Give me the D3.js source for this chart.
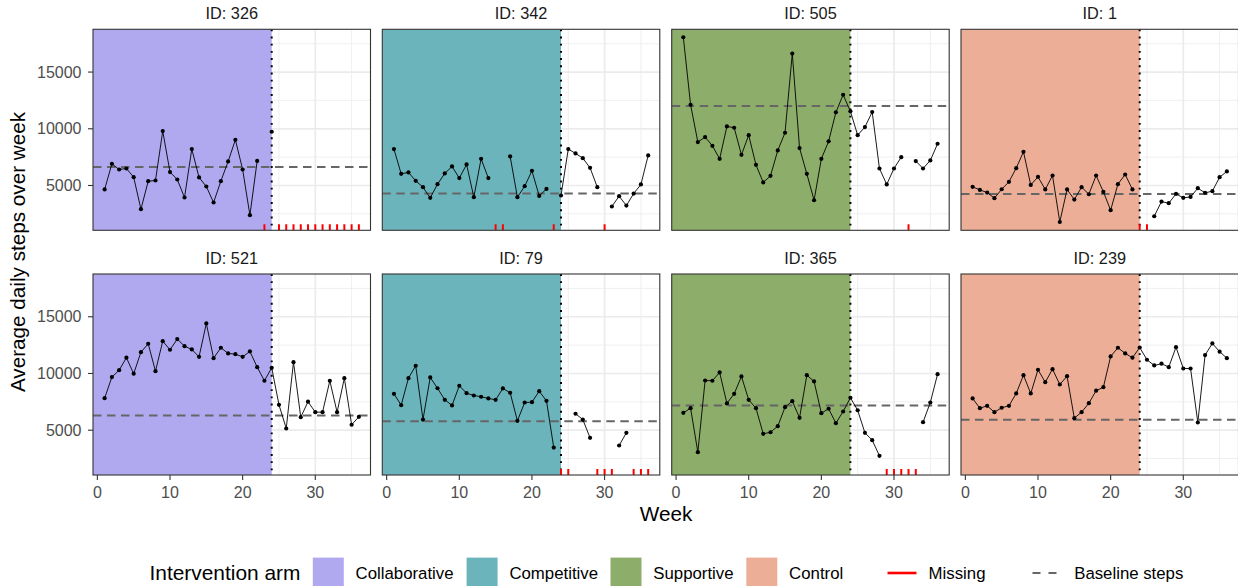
<!DOCTYPE html>
<html>
<head>
<meta charset="utf-8">
<script src="https://cdn.jsdelivr.net/npm/d3@7"></script>
<style>
  html, body { margin: 0; padding: 0; background: #fff; }
  svg { display: block; font-family: "Liberation Sans", Arial, Helvetica, sans-serif; }
</style>
</head>
<body>
<svg id="chart" width="1238" height="586"></svg>
<script>
// ---------------- data ----------------
const weeks = d3.range(1, 37);
const ids = ["326", "342", "505", "1", "521", "79", "365", "239"];
const arms = ["Collaborative", "Competitive", "Supportive", "Control",
              "Collaborative", "Competitive", "Supportive", "Control"];
const armNames = ["Collaborative", "Competitive", "Supportive", "Control"];
const armColors = ["#B1A9F0", "#6CB4BB", "#8DAD6A", "#ECAE97"];
const baselineSteps = [6640, 4290, 12000, 4260, 6300, 5790, 7180, 5910];
const interventionStartWeek = 24;

const steps326 = [4650,6910,6410,6500,5730,2910,5380,5440,9800,6180,5530,3940,8210,5710,4910,3500,5380,7120,9030,6410,2380,7170,null,9740,null,null,null,null,null,null,null,null,null,null,null,null];
const steps342 = [8210,6030,6150,5410,4850,3910,5120,6060,6680,5650,6860,3970,7350,5650,null,null,7560,3970,4940,6290,4080,4700,null,4120,8210,7830,7410,6560,4850,null,3150,4060,3230,4290,5090,7650];
const steps505 = [18070,12120,8830,9270,8500,7350,10210,10090,7700,9440,6820,5270,5850,8090,9650,16630,8300,6030,3700,7350,8890,11450,13000,11540,9440,10150,11480,6500,5090,6500,7500,null,7150,6500,7210,8680];
const steps1   = [4880,4610,4380,3880,4670,5320,6530,7970,5050,5760,4650,5880,1780,4650,3760,4850,4230,5880,4440,2820,5120,5970,4650,null,null,2290,3580,3440,4260,3910,3990,4760,4350,4500,5730,6240];
const steps521 = [7820,9680,10290,11390,9980,11880,12620,10200,12850,12090,13030,12410,12120,11470,14410,11350,12270,11770,11700,11470,11940,10560,9360,10500,7240,5150,11000,6150,7510,6590,6590,9360,6590,9590,5480,6180];
const steps79  = [8210,7210,9590,10680,5940,9650,8700,7680,7180,8920,8260,8060,7950,7800,7680,8680,8300,5830,7440,7470,8440,7590,3470,null,null,6450,5940,4330,null,null,null,3650,4770,null,null,null];
const steps365 = [6530,6940,3060,9380,9360,10090,7360,8210,9740,7680,6940,4680,4820,5350,7030,7560,6090,9850,9300,6500,6890,5620,6650,7860,6760,4770,4120,2740,null,null,null,null,null,5710,7440,9940];
const steps239 = [7800,6940,7150,6590,6980,7150,8240,9850,8240,10330,9230,10380,9030,9760,6060,6590,7380,8480,8790,11500,12270,11770,11390,12290,11210,10710,10860,10560,12320,10440,10440,5680,11620,12650,11920,11350];

const xTicks = [0, 10, 20, 30];
const xMinor = [5, 15, 25, 35];
const yTicks = [5000, 10000, 15000];
const yMinor = [2500, 7500, 12500, 17500];

const allSteps = [steps326, steps342, steps505, steps1, steps521, steps79, steps365, steps239];

// ---------------- layout ----------------
const svg = d3.select("#chart");
const panelW = 277.5, panelH = 201;
const colX = [93, 382.3, 671.7, 961];
const rowY = [29.3, 274];

const x = d3.scaleLinear().domain([-0.6, 37.6]).range([0, panelW]);
const y = d3.scaleLinear().domain([1050, 18770]).range([panelH, 0]);
const armColor = d3.scaleOrdinal().domain(armNames).range(armColors);

ids.forEach((id, i) => {
  const col = i % 4, row = Math.floor(i / 4);
  const g = svg.append("g").attr("transform", `translate(${colX[col]},${rowY[row]})`);
  const data = weeks.map((w, k) => ({ week: w, steps: allSteps[i][k] }));

  const clipId = "clip" + i;
  g.append("clipPath").attr("id", clipId)
    .append("rect").attr("width", panelW).attr("height", panelH);
  const inner = g.append("g").attr("clip-path", `url(#${clipId})`);

  inner.append("rect").attr("width", panelW).attr("height", panelH).attr("fill", "#fff");

  // grid minor
  inner.selectAll(".gxm").data(xMinor).join("line")
    .attr("x1", d => x(d)).attr("x2", d => x(d)).attr("y1", 0).attr("y2", panelH)
    .attr("stroke", "#EBEBEB").attr("stroke-width", 0.8);
  inner.selectAll(".gym").data(yMinor).join("line")
    .attr("y1", d => y(d)).attr("y2", d => y(d)).attr("x1", 0).attr("x2", panelW)
    .attr("stroke", "#EBEBEB").attr("stroke-width", 0.8);
  // grid major
  inner.selectAll(".gx").data(xTicks).join("line")
    .attr("x1", d => x(d)).attr("x2", d => x(d)).attr("y1", 0).attr("y2", panelH)
    .attr("stroke", "#EBEBEB").attr("stroke-width", 1.7);
  inner.selectAll(".gy").data(yTicks).join("line")
    .attr("y1", d => y(d)).attr("y2", d => y(d)).attr("x1", 0).attr("x2", panelW)
    .attr("stroke", "#EBEBEB").attr("stroke-width", 1.7);

  // shaded baseline period
  inner.append("rect")
    .attr("x", 0).attr("y", 0)
    .attr("width", x(interventionStartWeek))
    .attr("height", panelH)
    .attr("fill", armColor(arms[i]));

  // baseline steps dashed
  inner.append("line")
    .attr("x1", 0).attr("x2", panelW)
    .attr("y1", y(baselineSteps[i])).attr("y2", y(baselineSteps[i]))
    .attr("stroke", "#666666").attr("stroke-width", 2)
    .attr("stroke-dasharray", "8.5,5.5");

  // dotted vline at intervention start
  inner.append("line")
    .attr("x1", x(interventionStartWeek)).attr("x2", x(interventionStartWeek))
    .attr("y1", 0).attr("y2", panelH)
    .attr("stroke", "#000").attr("stroke-width", 2)
    .attr("stroke-dasharray", "1.9,5.3");

  // data line with gaps
  const line = d3.line()
    .defined(d => d.steps != null)
    .x(d => x(d.week)).y(d => y(d.steps));
  inner.append("path").datum(data)
    .attr("d", line).attr("fill", "none")
    .attr("stroke", "#000").attr("stroke-width", 0.9);

  inner.selectAll(".pt").data(data.filter(d => d.steps != null)).join("circle")
    .attr("cx", d => x(d.week)).attr("cy", d => y(d.steps)).attr("r", 2.1)
    .attr("fill", "#000");

  // missing rug
  inner.selectAll(".rug").data(data.filter(d => d.steps == null)).join("line")
    .attr("x1", d => x(d.week)).attr("x2", d => x(d.week))
    .attr("y1", panelH).attr("y2", panelH - 6)
    .attr("stroke", "#FF0000").attr("stroke-width", 2);

  // border
  g.append("rect").attr("width", panelW).attr("height", panelH)
    .attr("fill", "none").attr("stroke", "#333333").attr("stroke-width", 1.1);

  // strip title
  g.append("text")
    .attr("x", panelW / 2).attr("y", -10)
    .attr("text-anchor", "middle")
    .attr("font-size", 16.3).attr("fill", "#1A1A1A")
    .text("ID: " + id);

  if (col === 0) {
    const ya = g.append("g");
    ya.selectAll("line").data(yTicks).join("line")
      .attr("x1", -5).attr("x2", 0).attr("y1", d => y(d)).attr("y2", d => y(d))
      .attr("stroke", "#333333").attr("stroke-width", 1.1);
    ya.selectAll("text").data(yTicks).join("text")
      .attr("x", -11.5).attr("y", d => y(d)).attr("dy", "0.35em")
      .attr("text-anchor", "end").attr("font-size", 16).attr("fill", "#4D4D4D")
      .text(d => d);
  }
  if (row === 1) {
    const xa = g.append("g").attr("transform", `translate(0,${panelH})`);
    xa.selectAll("line").data(xTicks).join("line")
      .attr("x1", d => x(d)).attr("x2", d => x(d)).attr("y1", 0).attr("y2", 5)
      .attr("stroke", "#333333").attr("stroke-width", 1.1);
    xa.selectAll("text").data(xTicks).join("text")
      .attr("x", d => x(d)).attr("y", 22.5)
      .attr("text-anchor", "middle").attr("font-size", 16).attr("fill", "#4D4D4D")
      .text(d => d);
  }
});

// axis titles
svg.append("text")
  .attr("transform", `translate(25,252) rotate(-90)`)
  .attr("text-anchor", "middle").attr("font-size", 20.7).attr("fill", "#000")
  .text("Average daily steps over week");
svg.append("text")
  .attr("x", 666).attr("y", 520.5)
  .attr("text-anchor", "middle").attr("font-size", 20.7).attr("fill", "#000")
  .text("Week");

// ---------------- legend ----------------
const lg = svg.append("g");
const legendMidY = 573;
lg.append("text").attr("x", 149.5).attr("y", legendMidY).attr("dy", "0.35em")
  .attr("font-size", 20.9).attr("fill", "#000").text("Intervention arm");

const keyX = [312.8, 466.6, 610.5, 746.3];
armNames.forEach((a, k) => {
  lg.append("rect").attr("x", keyX[k]).attr("y", 557.6)
    .attr("width", 31).attr("height", 31).attr("fill", armColor(a));
  lg.append("text").attr("x", keyX[k] + 42.8).attr("y", legendMidY).attr("dy", "0.35em")
    .attr("font-size", 16.8).attr("fill", "#000").text(a);
});

lg.append("line").attr("x1", 887.5).attr("x2", 916.5).attr("y1", 573).attr("y2", 573)
  .attr("stroke", "#FF0000").attr("stroke-width", 2.6);
lg.append("text").attr("x", 928.6).attr("y", legendMidY).attr("dy", "0.35em")
  .attr("font-size", 16.8).attr("fill", "#000").text("Missing");

lg.append("line").attr("x1", 1032.5).attr("x2", 1061).attr("y1", 573).attr("y2", 573)
  .attr("stroke", "#666666").attr("stroke-width", 2.2)
  .attr("stroke-dasharray", "8,8");
lg.append("text").attr("x", 1074.2).attr("y", legendMidY).attr("dy", "0.35em")
  .attr("font-size", 16.8).attr("fill", "#000").text("Baseline steps");
</script>
</body>
</html>
